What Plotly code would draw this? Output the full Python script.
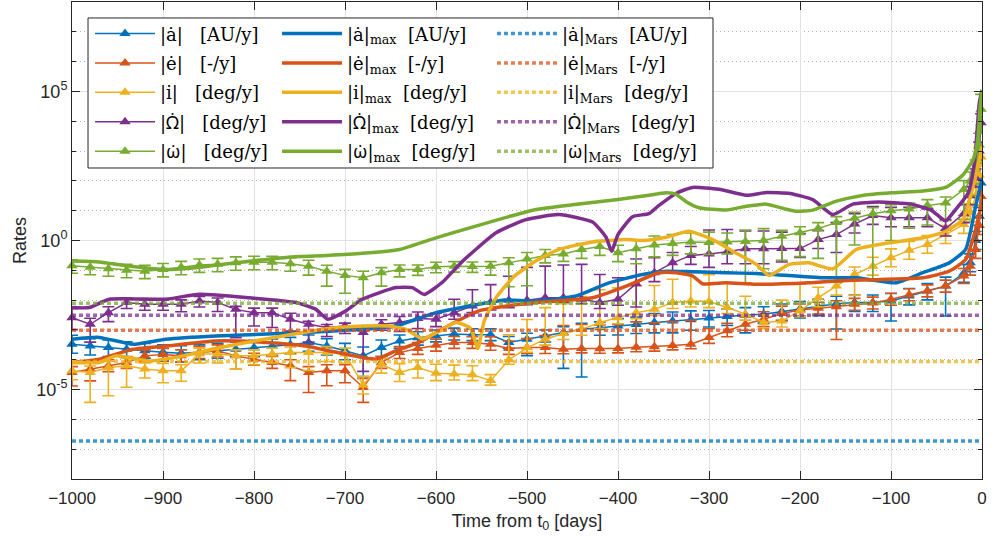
import numpy as np
import plotly.graph_objects as go

# ---------------------------------------------------------------------------
# Sampled rates (log10 of the value), one entry per epoch in `days`
# ---------------------------------------------------------------------------
days = list(range(-1000, 0, 20)) + [-13, -7, -3, -1]

a_log = [-3.48, -3.54, -3.59, -3.65, -3.70, -3.75, -3.78, -3.75, -3.70, -3.65, -3.60, -3.55, -3.50,
         -3.42, -3.54, -3.70, -3.87, -3.59, -3.37, -3.26, -3.20, -3.14, -3.16, -3.16, -3.42,
         -3.31, -3.20, -3.09, -2.98, -2.93, -2.87, -2.82, -2.75, -2.70, -2.66, -2.60, -2.55, -2.50,
         -2.47, -2.38, -2.30, -2.22, -2.12, -2.08, -2.08, -2.03, -1.86, -1.69, -1.53, -1.10,
         -0.75, 0.00, 0.81, 1.93]
a_up = [0.30, 0.25, 0.25, 0.25, 0.25, 0.25, 0.25, 0.25, 0.25, 0.25, 0.25, 0.25, 0.25,
        0.25, 0.25, 0.25, 0.30, 0.25, 0.20, 0.20, 0.20, 0.20, 0.20, 0.20, 0.20,
        0.20, 0.20, 0.20, 0.20, 0.20, 0.25, 0.25, 0.30, 0.30, 0.30, 0.25, 0.25, 0.25,
        0.25, 0.25, 0.25, 0.25, 0.25, 0.25, 0.25, 0.25, 0.25, 0.25, 0.30, 0.30,
        0.30, 0.30, 0.30, 0.30]
a_dn = [0.30, 0.30, 0.30, 0.25, 0.25, 0.30, 0.30, 0.25, 0.25, 0.25, 0.30, 0.30, 0.30,
        0.30, 0.30, 0.30, 0.70, 0.30, 0.25, 0.25, 0.20, 0.20, 0.20, 0.20, 0.20,
        0.55, 0.20, 1.20, 1.60, 0.25, 0.30, 0.30, 0.35, 0.40, 0.35, 0.30, 0.30, 0.60,
        0.30, 0.30, 0.30, 0.30, 0.85, 0.30, 0.30, 0.67, 0.30, 0.30, 1.00, 0.30,
        0.30, 0.30, 0.30, 0.30]

e_log = [-4.43, -4.31, -4.20, -4.09, -3.87, -3.82, -3.87, -3.76, -3.70, -3.87, -3.98, -4.09, -4.20,
         -4.43, -4.37, -4.37, -4.93, -4.09, -3.76, -3.62, -3.51, -3.42, -3.42, -3.48, -3.62,
         -3.59, -3.59, -3.65, -3.62, -3.63, -3.62, -3.58, -3.56, -3.52, -3.48, -3.25, -3.03, -2.81,
         -2.64, -2.45, -2.33, -2.27, -2.22, -2.14, -2.10, -1.97, -1.82, -1.69, -1.53, -1.19,
         -0.86, -0.30, 0.50, 1.48]
e_up = [0.20, 0.20, 0.20, 0.20, 0.20, 0.20, 0.20, 0.20, 0.20, 0.20, 0.20, 0.20, 0.20,
        0.20, 0.20, 0.20, 0.30, 0.20, 0.20, 0.20, 0.20, 0.20, 0.20, 0.25, 0.25,
        0.30, 0.40, 0.80, 0.80, 0.80, 0.80, 0.85, 0.80, 0.80, 0.80, 0.30, 0.25, 0.25,
        0.25, 0.25, 0.20, 0.20, 0.20, 0.20, 0.20, 0.20, 0.20, 0.20, 0.20, 0.25,
        0.30, 0.30, 0.30, 0.30]
e_dn = [0.45, 0.40, 0.20, 0.20, 0.20, 0.20, 0.20, 0.20, 0.20, 0.45, 0.20, 0.20, 0.50,
        0.67, 0.50, 0.40, 0.50, 0.20, 0.20, 0.20, 0.20, 0.20, 0.20, 0.20, 0.20,
        0.20, 0.20, 0.15, 0.15, 0.15, 0.15, 0.15, 0.15, 0.15, 0.15, 0.20, 0.20, 0.20,
        0.25, 0.25, 0.20, 0.20, 1.10, 0.20, 0.20, 0.20, 0.20, 0.20, 0.20, 0.25,
        0.30, 0.30, 0.30, 0.30]

i_log = [-4.37, -4.43, -4.26, -4.20, -4.31, -4.37, -4.37, -3.81, -3.81, -3.87, -3.87, -3.81, -3.76,
         -3.76, -3.76, -3.81, -4.85, -4.15, -4.43, -4.26, -4.45, -4.48, -4.50, -4.70, -4.00,
         -3.60, -3.31, -3.12, -2.98, -2.75, -2.59, -2.42, -2.31, -2.08, -2.03, -2.05, -2.25, -2.47,
         -2.75, -2.70, -2.36, -1.92, -1.53, -1.14, -0.86, -0.58, -0.33, -0.13, 0.20, 0.54,
         0.93, 1.50, 2.20, 2.80]
i_up = [0.25, 0.22, 0.20, 0.25, 0.20, 0.25, 0.20, 0.20, 0.20, 0.20, 0.20, 0.20, 0.20,
        0.20, 0.20, 0.20, 0.30, 0.20, 0.30, 0.25, 0.30, 0.30, 0.30, 0.20, 0.84,
        0.95, 1.06, 1.00, 1.10, 1.10, 1.00, 0.90, 0.80, 0.78, 0.96, 0.90, 0.83, 0.60,
        0.25, 0.70, 0.90, 0.35, 0.30, 0.25, 0.30, 0.30, 0.30, 0.30, 0.30, 0.30,
        0.30, 0.30, 0.90, 0.30]
i_dn = [0.30, 1.00, 0.95, 0.72, 0.30, 0.40, 0.35, 0.30, 0.30, 0.45, 0.30, 0.30, 0.50,
        0.60, 0.30, 0.30, 0.30, 0.30, 0.30, 0.35, 0.25, 0.20, 0.20, 0.15, 0.15,
        0.15, 0.20, 0.20, 0.20, 0.20, 0.20, 0.20, 0.20, 0.20, 0.20, 0.20, 0.20, 0.20,
        0.20, 0.20, 0.20, 0.30, 0.30, 0.70, 0.30, 0.30, 0.30, 0.30, 0.30, 0.30,
        0.30, 0.30, 0.30, 0.30]

O_log = [-2.59, -2.81, -2.42, -2.08, -2.14, -2.14, -2.14, -2.03, -2.08, -2.31, -2.42, -2.42, -2.64,
         -2.81, -2.92, -2.87, -3.09, -2.81, -2.75, -2.62, -2.64, -2.42, -2.20, -2.08, -2.00,
         -2.00, -1.92, -1.92, -1.97, -2.08, -1.97, -1.45, -1.08, -0.75, -0.50, -0.45, -0.38, -0.28,
         -0.28, -0.27, -0.27, 0.03, 0.20, 0.55, 0.84, 0.76, 0.76, 0.76, 0.40, 0.90,
         1.50, 2.10, 3.00, 3.95]
O_up = [0.30, 0.20, 0.20, 0.15, 0.15, 0.15, 0.15, 0.15, 0.15, 0.10, 0.15, 0.15, 0.20,
        0.10, 0.10, 0.10, 0.20, 0.15, 0.20, 0.22, 0.20, 0.45, 0.55, 0.60, 0.80,
        1.10, 1.06, 1.10, 1.17, 0.94, 0.72, 0.83, 0.50, 0.35, 0.30, 0.80, 0.75, 0.60,
        0.60, 0.55, 0.50, 0.30, 0.40, 0.35, 0.30, 0.35, 0.35, 0.30, 0.30, 0.30,
        0.30, 0.30, 0.30, 0.30]
O_dn = [0.40, 0.60, 0.30, 0.20, 0.20, 0.20, 0.25, 0.20, 0.30, 0.95, 0.45, 0.50, 0.40,
        0.60, 0.30, 0.25, 1.30, 0.20, 0.30, 0.33, 0.25, 0.22, 0.22, 0.25, 0.25,
        0.15, 0.15, 0.15, 0.15, 0.20, 0.20, 0.78, 0.30, 0.30, 0.30, 0.45, 0.40, 0.50,
        0.50, 0.45, 0.30, 0.30, 0.60, 0.30, 0.30, 0.30, 0.30, 0.30, 0.25, 0.30,
        0.30, 0.30, 0.30, 0.30]

w_log = [-0.85, -0.90, -0.95, -1.00, -1.03, -0.97, -0.90, -0.82, -0.80, -0.75, -0.73, -0.73, -0.78,
         -0.86, -1.03, -1.17, -1.25, -1.08, -0.97, -0.97, -0.88, -0.86, -0.87, -0.86, -0.75,
         -0.62, -0.50, -0.45, -0.30, -0.20, -0.41, -0.28, -0.15, -0.10, -0.05, -0.07, -0.05, -0.03,
         0.00, 0.14, 0.26, 0.40, 0.60, 0.75, 0.90, 1.00, 1.06, 1.17, 1.26, 1.71,
         2.00, 2.40, 3.20, 4.40]
w_up = [0.20, 0.20, 0.20, 0.20, 0.20, 0.20, 0.20, 0.20, 0.20, 0.20, 0.20, 0.20, 0.20,
        0.20, 0.20, 0.20, 0.22, 0.17, 0.15, 0.15, 0.15, 0.15, 0.15, 0.15, 0.17,
        0.22, 0.20, 0.20, 0.20, 0.20, 0.25, 0.30, 0.30, 0.30, 0.30, 0.35, 0.30, 0.38,
        0.40, 0.20, 0.20, 0.20, 0.20, 0.20, 0.20, 0.20, 0.20, 0.20, 0.20, 0.30,
        0.30, 0.30, 0.40, 0.50]
w_dn = [0.25, 0.25, 0.25, 0.25, 0.25, 0.25, 0.25, 0.25, 0.25, 0.25, 0.25, 0.25, 0.25,
        0.30, 0.50, 0.60, 0.70, 0.45, 0.25, 0.20, 0.20, 0.20, 0.20, 0.30, 0.80,
        0.90, 0.25, 0.25, 0.30, 0.30, 0.30, 0.50, 0.40, 0.40, 0.40, 0.40, 0.40, 1.40,
        0.95, 0.80, 0.80, 1.00, 2.00, 0.90, 2.25, 1.00, 0.65, 0.65, 0.60, 1.00,
        0.50, 0.50, 0.60, 0.80]

# ---------------------------------------------------------------------------
# Maximum admissible rates (log10), each sampled on its own epochs
# ---------------------------------------------------------------------------
a_max_days = [-1000, -970, -933, -897, -842, -743, -681, -644, -600, -564, -527, -490, -446,
              -410, -373, -347, -318, -281, -248, -234, -175, -138, -95, -65, -36, -18, -7, 0]
a_max_log = [-3.31, -3.25, -3.48, -3.31, -3.20, -3.09, -2.98, -2.87, -2.42, -2.20, -2.00, -2.03, -1.86,
             -1.42, -1.14, -1.03, -1.05, -1.08, -1.11, -1.13, -1.25, -1.25, -1.42, -1.08, -0.75, -0.30, 1.15, 2.04]

e_max_days = [-1000, -970, -933, -897, -842, -787, -743, -718, -681, -666, -644, -619, -589, -553,
              -516, -490, -428, -391, -355, -336, -318, -307, -281, -248, -190, -157, -65, -36, -18, -7, 0]
e_max_log = [-4.09, -3.98, -3.65, -3.54, -3.37, -3.42, -3.54, -3.70, -3.92, -3.98, -3.70, -3.42, -2.90, -2.36,
             -2.17, -2.08, -1.92, -1.53, -1.08, -1.08, -1.19, -1.45, -1.42, -1.47, -1.42, -1.35, -1.25, -1.03, -0.64, 0.37, 1.30]

i_max_days = [-1000, -970, -952, -915, -878, -842, -787, -743, -718, -681, -652, -633, -615, -597,
              -578, -562, -554, -547, -534, -514, -490, -465, -428, -391, -373, -347, -322, -296,
              -274, -248, -234, -212, -190, -164, -138, -102, -65, -40, -21, -7, 0]
i_max_log = [-4.09, -4.09, -3.87, -4.04, -3.87, -3.62, -3.30, -3.07, -2.95, -2.87, -2.87, -2.98, -3.30, -3.05,
             -2.75, -2.95, -3.62, -2.70, -1.92, -1.20, -0.68, -0.30, -0.05, 0.03, 0.00, 0.11, 0.31, 0.03,
             -0.36, -0.80, -1.17, -0.80, -0.75, -0.95, -0.30, -0.08, 0.09, 0.31, 0.70, 2.15, 3.15]

O_max_days = [-1000, -981, -959, -897, -860, -805, -754, -732, -719, -699, -681, -644, -626, -613,
              -593, -571, -534, -501, -465, -428, -413, -407, -400, -384, -366, -356, -335, -318,
              -289, -259, -237, -211, -186, -164, -142, -114, -78, -56, -40, -30, -15, -8, -3, 0]
O_max_log = [-2.25, -2.25, -1.97, -1.97, -1.80, -1.92, -2.08, -2.31, -2.64, -2.36, -1.97, -1.58, -1.58, -1.81,
             -1.40, -0.70, 0.26, 0.70, 0.87, 0.62, 0.10, -0.36, 0.20, 0.80, 0.90, 1.15, 1.60, 1.78,
             1.72, 1.52, 1.61, 1.58, 1.37, 0.87, 1.22, 1.29, 1.22, 1.02, 0.66, 1.00, 1.60, 2.70, 4.60, 5.05]

w_max_days = [-1000, -970, -940, -900, -870, -840, -800, -760, -720, -681, -640, -600, -560, -520,
              -490, -450, -402, -370, -347, -336, -325, -311, -281, -259, -237, -215, -204, -186,
              -160, -130, -100, -65, -40, -21, -10, -5, -2, 0]
w_max_log = [-0.69, -0.72, -0.85, -0.97, -0.93, -0.82, -0.68, -0.55, -0.50, -0.43, -0.30, 0.09, 0.45, 0.80,
             1.04, 1.20, 1.37, 1.50, 1.60, 1.55, 1.30, 1.10, 1.02, 1.15, 1.22, 1.05, 0.98, 1.02,
             1.32, 1.52, 1.60, 1.66, 1.78, 2.20, 2.70, 3.30, 4.50, 5.05]

# Reference rates for Mars
a_mars = 1.9e-7
e_mars = 9.8e-4
i_mars = 8.7e-5
O_mars = 3.1e-3
w_mars = 7.8e-3

colors = {"a": "#0072BD", "e": "#D95319", "i": "#EDB120", "O": "#7E2F8E", "w": "#77AC30"}

# dotted symbols; Greek letters use a face with proper mark placement for the dot
greek = '<span style="font-family:Noto Sans">{}</span>'
sym = {
    "a": "|a\u0307|",
    "e": "|e\u0307|",
    "i": "|i\u0307|",
    "O": "|" + greek.format("\u03A9\u0307") + "|",
    "w": "|" + greek.format("\u03C9\u0307") + "|",
}
units = {"a": "[AU/y]", "e": "[-/y]", "i": "[deg/y]", "O": "[deg/y]", "w": "[deg/y]"}

series = {
    "a": (a_log, a_up, a_dn, a_max_days, a_max_log, a_mars),
    "e": (e_log, e_up, e_dn, e_max_days, e_max_log, e_mars),
    "i": (i_log, i_up, i_dn, i_max_days, i_max_log, i_mars),
    "O": (O_log, O_up, O_dn, O_max_days, O_max_log, O_mars),
    "w": (w_log, w_up, w_dn, w_max_days, w_max_log, w_mars),
}
order = ["a", "e", "i", "O", "w"]

fig = go.Figure()

# sampled rates with their uncertainty bars
for k in order:
    lg, up, dn = (np.array(v) for v in series[k][:3])
    val = 10.0 ** lg
    hi = 10.0 ** (lg + up)
    lo = 10.0 ** (lg - dn)
    fig.add_trace(go.Scatter(
        x=days, y=val, mode="lines+markers",
        name=f"{sym[k]}\u00a0\u00a0 {units[k]}",
        legendgroup=f"rate_{k}",
        line=dict(color=colors[k], width=1.5),
        marker=dict(symbol="triangle-up", size=10, color=colors[k]),
        error_y=dict(type="data", symmetric=False, array=hi - val, arrayminus=val - lo,
                     color=colors[k], thickness=1.6, width=6),
        cliponaxis=False,
        legend="legend",
    ))

# maximum rates
for k in order:
    mdays, mlog = series[k][3], series[k][4]
    fig.add_trace(go.Scatter(
        x=mdays, y=10.0 ** np.array(mlog), mode="lines",
        name=f"{sym[k]}<sub>max</sub>\u00a0 {units[k]}",
        legendgroup=f"max_{k}",
        line=dict(color=colors[k], width=3.5, shape="spline", smoothing=0.5),
        legend="legend2",
    ))

# Mars reference levels
for k in order:
    level = series[k][5]
    fig.add_trace(go.Scatter(
        x=[-1000, 0], y=[level, level], mode="lines",
        name=f"{sym[k]}<sub>Mars</sub>\u00a0 {units[k]}",
        legendgroup=f"mars_{k}",
        line=dict(color=colors[k], width=3.5, dash="4px,3px"),
        opacity=0.75,
        legend="legend3",
    ))

axis_col = "#262626"
legend_common = dict(
    bgcolor="rgba(0,0,0,0)", borderwidth=0, xanchor="left", yanchor="top",
    font=dict(family="DejaVu Serif, serif", size=18, color="#000000"),
    itemwidth=60, tracegroupgap=3,
)
leg_y = 0.972

fig.update_layout(
    width=995, height=544,
    margin=dict(l=72, r=13, t=2, b=65),
    plot_bgcolor="white", paper_bgcolor="white",
    font=dict(family="Liberation Sans, Arial, sans-serif", size=17, color=axis_col),
    showlegend=True,
    legend=dict(x=0.0198, y=leg_y, **legend_common),
    legend2=dict(x=0.2253, y=leg_y, **legend_common),
    legend3=dict(x=0.4615, y=leg_y, **legend_common),
    shapes=[dict(type="rect", xref="paper", yref="paper",
                 x0=0.0176, x1=0.7044, y0=0.652, y1=0.9665,
                 line=dict(color=axis_col, width=1), fillcolor="white", layer="above")],
    xaxis=dict(
        range=[-1000, 0], tickmode="linear", tick0=-1000, dtick=100,
        ticks="inside", ticklen=8, tickwidth=1, tickcolor=axis_col,
        showline=True, linecolor=axis_col, linewidth=1, mirror="ticks",
        showgrid=True, gridcolor="#e2e2e2", gridwidth=1, zeroline=False,
        ticklabelstandoff=4,
        title=dict(text="Time from t<sub>0</sub> [days]", font=dict(size=18), standoff=6),
    ),
    yaxis=dict(
        type="log", range=[-8, 8],
        tickmode="array", tickvals=[1e-5, 1, 1e5],
        ticktext=["10<sup>-5</sup>", "10<sup>0</sup>", "10<sup>5</sup>"],
        tickfont=dict(size=18),
        ticks="inside", ticklen=8, tickwidth=1, tickcolor=axis_col,
        showline=True, linecolor=axis_col, linewidth=1, mirror="ticks",
        showgrid=True, gridcolor="#e2e2e2", gridwidth=1, zeroline=False,
        minor=dict(tickmode="linear", tick0=0, dtick=1, ticks="inside", ticklen=4,
                   tickcolor=axis_col, showgrid=True, gridcolor="#b4b4b4",
                   griddash="1px,3px", gridwidth=1),
        title=dict(text="Rates", font=dict(size=18), standoff=4),
    ),
)

fig.write_html("out.html")
